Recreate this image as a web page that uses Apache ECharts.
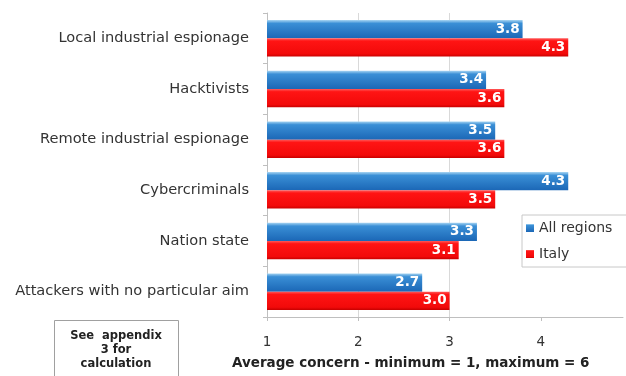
<!DOCTYPE html>
<html>
<head>
<meta charset="utf-8">
<script src="https://cdn.jsdelivr.net/npm/echarts@6/dist/echarts.min.js"></script>
<style>
  html, body { margin: 0; padding: 0; background: #fff; }
  #chart { width: 626px; height: 376px; }
</style>
</head>
<body>
<div id="chart"></div>
<script>
// Attacker types, top to bottom
const categories = [
  'Local industrial espionage',
  'Hacktivists',
  'Remote industrial espionage',
  'Cybercriminals',
  'Nation state',
  'Attackers with no particular aim'
];
const seriesNames = ['All regions', 'Italy'];
const allRegions = [3.8, 3.4, 3.5, 4.3, 3.3, 2.7];
const italy = [4.3, 3.6, 3.6, 3.5, 3.1, 3.0];
const xTicks = [1, 2, 3, 4];
const axisTitle = 'Average concern - minimum = 1, maximum = 6';
const noteLines = ['See  appendix', '3 for', 'calculation'];

const FONT = '"DejaVu Sans", "Open Sans", sans-serif';

const blueFill = new echarts.graphic.LinearGradient(0, 0, 0, 1, [
  { offset: 0, color: '#a6d4f2' },
  { offset: 0.18, color: '#3a8fd6' },
  { offset: 1, color: '#1b67b6' }
]);
const redFill = new echarts.graphic.LinearGradient(0, 0, 0, 1, [
  { offset: 0, color: '#ff5a5a' },
  { offset: 0.15, color: '#ff1414' },
  { offset: 0.85, color: '#f20a0a' },
  { offset: 1, color: '#c80000' }
]);

function valueLabel() {
  return {
    show: true,
    position: 'insideRight',
    distance: 3,
    color: '#ffffff',
    fontFamily: FONT,
    fontWeight: 'bold',
    fontSize: 13.5,
    formatter: p => p.value.toFixed(1)
  };
}

const chart = echarts.init(document.getElementById('chart'), null, { renderer: 'canvas' });

chart.setOption({
  animation: false,
  backgroundColor: '#ffffff',
  // the value scale runs past the right edge, so the axis ends just short of 5
  grid: { left: 267, top: 13, right: 0, height: 304, containLabel: false },
  legend: {
    data: seriesNames,
    orient: 'vertical',
    left: 522,
    top: 215,
    itemWidth: 8,
    itemHeight: 8,
    itemGap: 12,
    padding: [6, 20, 6, 4],
    backgroundColor: '#ffffff',
    borderColor: '#c8c8c8',
    borderWidth: 1,
    icon: 'rect',
    textStyle: { fontFamily: FONT, fontSize: 14, color: '#333333' }
  },
  xAxis: {
    type: 'value',
    min: 1,
    max: 4.9,
    interval: 1,
    axisLine: { show: true, lineStyle: { color: '#bfbfbf' } },
    axisTick: { show: true, length: 4, customValues: xTicks, lineStyle: { color: '#bfbfbf' } },
    splitLine: { show: true, showMaxLine: false, lineStyle: { color: '#d9d9d9' } },
    axisLabel: {
      margin: 18,
      fontFamily: FONT,
      fontSize: 13.5,
      color: '#333333',
      formatter: v => (xTicks.indexOf(v) >= 0 ? String(v) : '')
    }
  },
  yAxis: {
    type: 'category',
    data: categories,
    inverse: true,
    axisLine: { show: true, lineStyle: { color: '#bfbfbf' } },
    axisTick: { show: true, length: 4, lineStyle: { color: '#bfbfbf' } },
    axisLabel: {
      margin: 18,
      fontFamily: FONT,
      fontSize: 14.6,
      color: '#333333'
    }
  },
  series: [
    {
      name: seriesNames[0],
      type: 'bar',
      data: allRegions,
      barGap: '0%',
      barCategoryGap: '28%',
      itemStyle: { color: blueFill },
      label: valueLabel()
    },
    {
      name: seriesNames[1],
      type: 'bar',
      data: italy,
      barGap: '0%',
      barCategoryGap: '28%',
      itemStyle: { color: redFill },
      label: valueLabel()
    }
  ],
  graphic: [
    {
      type: 'text',
      left: 232,
      top: 356,
      style: {
        text: axisTitle,
        font: 'bold 13.5px ' + FONT,
        fill: '#222222'
      }
    },
    {
      type: 'rect',
      shape: { x: 54.5, y: 320.5, width: 124, height: 60 },
      style: { fill: '#ffffff', stroke: '#a0a0a0', lineWidth: 1 }
    },
    {
      type: 'text',
      x: 116,
      y: 329,
      style: {
        text: noteLines.join('\n'),
        font: 'bold 11.5px ' + FONT,
        fill: '#222222',
        align: 'center',
        lineHeight: 14
      }
    }
  ]
});
</script>
</body>
</html>
